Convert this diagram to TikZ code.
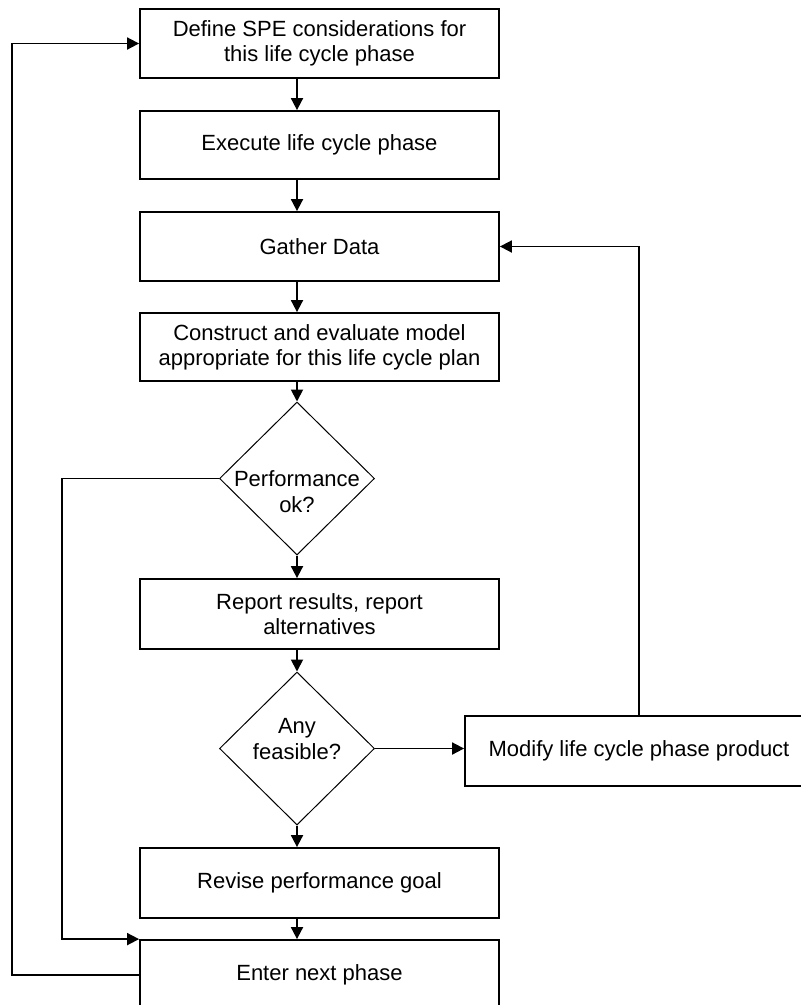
\documentclass[tikz,border=0pt]{standalone}
\usepackage{fontspec}
\setmainfont{Liberation Sans}
\usetikzlibrary{arrows.meta,shapes.geometric}
\begin{document}
\begin{tikzpicture}[x=1pt,y=-1pt,
  box/.style={draw,line width=1.8pt,rectangle,inner sep=0pt,minimum width=359pt,align=center,font=\fontsize{22}{25}\selectfont},
  dia/.style={draw,line width=1pt,diamond,inner sep=0pt,minimum width=155pt,minimum height=153pt},
  dtext/.style={align=center,inner sep=0pt,font=\fontsize{22}{26}\selectfont},
  conn/.style={line width=1.8pt,-{Triangle[length=12pt,width=12pt]}}]
\useasboundingbox (0,0) rectangle (801,1005);
\clip (0,0) rectangle (801,1005);
\fill[white] (0,0) rectangle (801,1005);

\coordinate (ax) at (297,0);
\coordinate (lx) at (62,0);
\coordinate (ox) at (12,0);

\node[box,minimum height=69pt] (b1) at (319.5,43.5) {Define SPE considerations for\\this life cycle phase};
\node[box,minimum height=68pt] (b2) at (319.5,145) {Execute life cycle phase};
\node[box,minimum height=69pt] (b3) at (319.5,246.5) {Gather Data};
\node[box,minimum height=68pt] (b4) at (319.5,347) {Construct and evaluate model\\appropriate for this life cycle plan};
\node[dia] (d1) at (297,478.5) {};
\node[dtext] (d1t) at (297,492) {Performance\\ok?};
\node[box,minimum height=70pt] (rep) at (319.5,614) {Report results, report\\alternatives};
\node[dia] (d2) at (297,748.5) {};
\node[dtext] (d2t) at (297,739) {Any\\feasible?};
\node[box,minimum width=348pt,minimum height=70pt] (mod) at (639,751) {Modify life cycle phase product};
\node[box,minimum height=70pt] (rev) at (319.5,883) {Revise performance goal};
\node[box,minimum height=70pt] (ent) at (319.5,975) {Enter next phase};

\draw[conn] (b1.south -| ax) -- (b2.north -| ax);
\draw[conn] (b2.south -| ax) -- (b3.north -| ax);
\draw[conn] (b3.south -| ax) -- (b4.north -| ax);
\draw[conn] (b4.south -| ax) -- (d1.north);
\draw[conn] (d1.south) -- (rep.north -| ax);
\draw[conn] (rep.south -| ax) -- (d2.north);
\draw[conn] (d2.south) -- (rev.north -| ax);
\draw[conn] (rev.south -| ax) -- (ent.north -| ax);
\draw[conn] (d2.east) -- (d2.east -| mod.west);
\draw[conn] (mod.north) -- (mod.north |- b3.east) -- (b3.east);
\draw[conn] (d1.west) -- (d1.west -| lx) -- (ent.north west -| lx) -- (ent.north west);
\draw[conn] (ent.west) -- (ent.west -| ox) -- (b1.west -| ox) -- (b1.west);
\end{tikzpicture}
\end{document}
